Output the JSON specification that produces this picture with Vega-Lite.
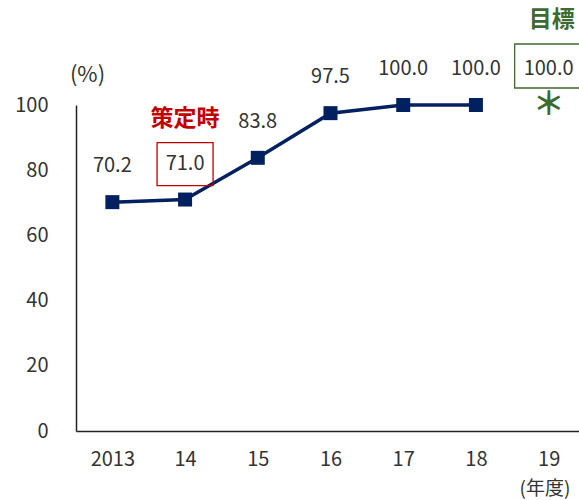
{
  "$schema": "https://vega.github.io/schema/vega-lite/v6.json",
  "autosize": "none",
  "padding": {"left": 76, "top": 105, "right": 0, "bottom": 69},
  "width": 503,
  "height": 326,
  "background": "white",
  "config": {
    "view": {"stroke": null},
    "font": "Noto Sans CJK JP",
    "axis": {"labelFont": "Noto Sans CJK JP", "titleFont": "Noto Sans CJK JP"}
  },
  "data": {
    "values": [
      {"year": "2013", "value": 70.2, "label": "70.2", "kind": "actual"},
      {"year": "14", "value": 71.0, "label": "71.0", "kind": "actual", "note": "策定時"},
      {"year": "15", "value": 83.8, "label": "83.8", "kind": "actual"},
      {"year": "16", "value": 97.5, "label": "97.5", "kind": "actual"},
      {"year": "17", "value": 100.0, "label": "100.0", "kind": "actual"},
      {"year": "18", "value": 100.0, "label": "100.0", "kind": "actual"},
      {"year": "19", "value": 100.0, "label": "100.0", "kind": "target", "note": "目標"}
    ]
  },
  "encoding": {
    "x": {
      "field": "year", "type": "ordinal", "sort": null,
      "scale": {"range": [0, 509], "paddingInner": 0, "paddingOuter": 0},
      "axis": {
        "title": "(年度)", "titleFontSize": 19, "titleFontWeight": "normal", "titleColor": "#333333",
        "titleX": 443, "titleY": 57, "titleAlign": "left", "titleBaseline": "middle",
        "labelAngle": 0, "labelFontSize": 20, "labelColor": "#333333", "labelPadding": 18,
        "ticks": false, "domainColor": "#222222", "domainWidth": 1.5, "grid": false
      }
    },
    "y": {
      "field": "value", "type": "quantitative",
      "scale": {"domain": [0, 100], "nice": false, "zero": true},
      "axis": {
        "title": "(%)", "titleFontSize": 22, "titleFontWeight": "normal", "titleColor": "#333333",
        "titleAngle": 0, "titleX": 11, "titleY": -31, "titleAlign": "center", "titleBaseline": "middle",
        "values": [0, 20, 40, 60, 80, 100], "labelFontSize": 20, "labelColor": "#333333",
        "labelPadding": 28, "ticks": false, "grid": false, "domainColor": "#222222", "domainWidth": 1.5
      }
    }
  },
  "layer": [
    {
      "transform": [{"filter": "datum.kind == 'actual'"}],
      "mark": {"type": "line", "color": "#002060", "strokeWidth": 3.5}
    },
    {
      "transform": [{"filter": "datum.kind == 'actual'"}],
      "mark": {"type": "point", "shape": "square", "filled": true, "size": 196, "color": "#002060", "opacity": 1}
    },
    {
      "mark": {"type": "text", "fontSize": 20, "color": "#333333", "yOffset": -36, "baseline": "middle"},
      "encoding": {"text": {"field": "label"}}
    },
    {
      "transform": [{"filter": "datum.year == '14'"}],
      "mark": {"type": "point", "shape": "M-1,-0.768H1V0.768H-1Z", "filled": false, "size": 3136, "stroke": "#c00000", "strokeWidth": 1.3, "opacity": 1, "yOffset": -35.5}
    },
    {
      "transform": [{"filter": "datum.year == '14'"}],
      "mark": {"type": "text", "fontSize": 23, "fontWeight": "bold", "color": "#c00000", "yOffset": -80.5, "baseline": "middle"},
      "encoding": {"text": {"field": "note"}}
    },
    {
      "transform": [{"filter": "datum.kind == 'target'"}],
      "mark": {"type": "point", "shape": "M-1,-0.647H1V0.647H-1Z", "filled": false, "size": 4624, "stroke": "#3d6a2e", "strokeWidth": 1.3, "opacity": 1, "yOffset": -39}
    },
    {
      "transform": [{"filter": "datum.kind == 'target'"}],
      "mark": {"type": "text", "fontSize": 23, "fontWeight": "bold", "color": "#3d6a2e", "yOffset": -85, "dx": 3, "baseline": "middle"},
      "encoding": {"text": {"field": "note"}}
    },
    {
      "transform": [{"filter": "datum.kind == 'target'"}],
      "mark": {"type": "text", "fontSize": 32, "fontWeight": "bold", "color": "#3d6a2e", "baseline": "middle", "text": "＊"}
    }
  ]
}
